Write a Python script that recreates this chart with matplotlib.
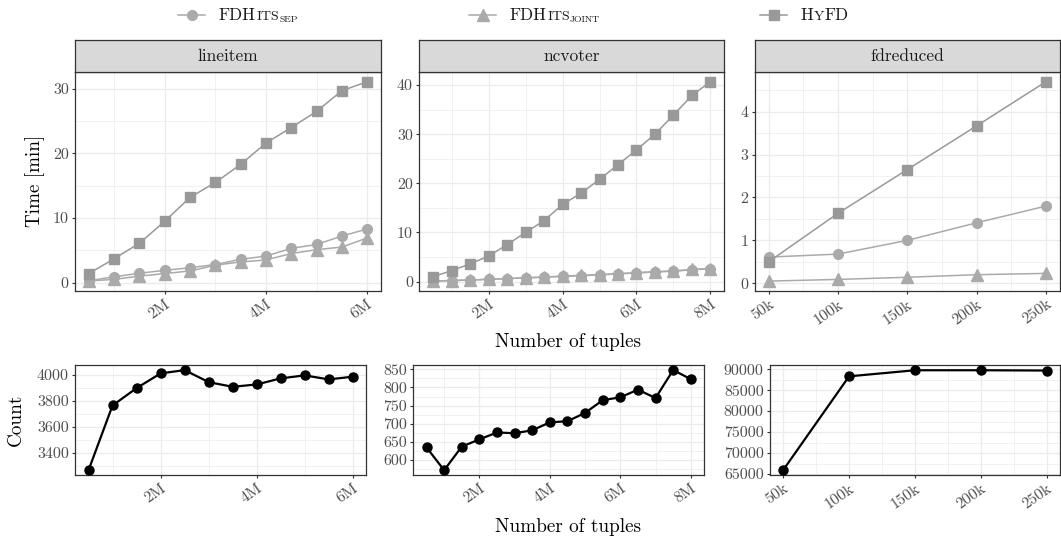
import matplotlib
matplotlib.use("Agg")
import matplotlib.pyplot as plt
from matplotlib.lines import Line2D

plt.rcParams['font.family'] = 'cmr10'
plt.rcParams['axes.formatter.use_mathtext'] = True
plt.rcParams['axes.unicode_minus'] = False

W, H = 1061, 541

# ---- data: runtime in minutes ----
li_x = [0.5, 1.0, 1.5, 2.0, 2.5, 3.0, 3.5, 4.0, 4.5, 5.0, 5.5, 6.0]
li_hyfd = [1.4, 3.7, 6.1, 9.5, 13.2, 15.5, 18.3, 21.6, 24.0, 26.5, 29.7, 31.1]
li_sep = [0.3, 0.9, 1.45, 1.9, 2.3, 2.8, 3.6, 4.1, 5.3, 5.9, 7.2, 8.3]
li_joint = [0.25, 0.5, 1.0, 1.4, 1.8, 2.7, 3.2, 3.5, 4.5, 5.1, 5.5, 6.9]

nc_x = [0.5, 1.0, 1.5, 2.0, 2.5, 3.0, 3.5, 4.0, 4.5, 5.0, 5.5, 6.0, 6.5, 7.0, 7.5, 8.0]
nc_hyfd = [1.0, 2.2, 3.6, 5.2, 7.5, 10.0, 12.4, 15.7, 18.0, 20.8, 23.8, 26.8, 30.0, 33.9, 37.9, 40.7]
nc_sep = [0.1, 0.2, 0.3, 0.45, 0.6, 0.75, 0.9, 1.05, 1.2, 1.35, 1.55, 1.75, 1.95, 2.1, 2.4, 2.6]
nc_joint = [0.1, 0.2, 0.3, 0.45, 0.6, 0.75, 0.9, 1.1, 1.25, 1.4, 1.6, 1.8, 2.0, 2.15, 2.45, 2.65]

fd_x = [50, 100, 150, 200, 250]
fd_hyfd = [0.5, 1.63, 2.65, 3.67, 4.70]
fd_sep = [0.61, 0.68, 1.0, 1.41, 1.80]
fd_joint = [0.05, 0.09, 0.14, 0.2, 0.23]

# ---- data: FD counts ----
li_count = [3264, 3763, 3897, 4010, 4036, 3943, 3907, 3925, 3972, 3995, 3964, 3985]
nc_count = [635, 572, 637, 657, 676, 674, 682, 704, 707, 730, 765, 773, 794, 771, 848, 823]
fd_count = [65950, 88300, 89750, 89750, 89680]

GRID = '#EBEBEB'
DARK = '#333333'
TICK = '#4D4D4D'
C_SEP = '#AAAAAA'
C_HYFD = '#999999'

fig = plt.figure(figsize=(W / 100, H / 100), dpi=100)


def px_axes(l, t, r, b):
    return fig.add_axes([l / W, 1 - b / H, (r - l) / W, (b - t) / H])


def style(ax, xmaj, xlab, xmin, ymaj, ylab, ymin, xlim, ylim):
    ax.set_xlim(*xlim)
    ax.set_ylim(*ylim)
    ax.set_xticks(xmaj)
    ax.set_xticklabels(xlab)
    ax.set_xticks(xmin, minor=True)
    ax.set_yticks(ymaj)
    ax.set_yticklabels(ylab)
    ax.set_yticks(ymin, minor=True)
    ax.grid(which='major', color=GRID, lw=0.9)
    ax.grid(which='minor', color=GRID, lw=0.5)
    ax.set_axisbelow(True)
    for s in ax.spines.values():
        s.set_color(DARK)
        s.set_linewidth(0.9)
    ax.tick_params(which='major', length=2.5, width=0.8, color=DARK,
                   labelsize=11.5, labelcolor=TICK, pad=2)
    ax.tick_params(which='minor', length=0)
    for t in ax.get_xticklabels():
        t.set_rotation(35)
        t.set_ha('right')
        t.set_va('top')
        t.set_rotation_mode('anchor')


def strip(l, r, label):
    s = px_axes(l, 40, r, 71.7)
    s.set_facecolor('#D9D9D9')
    s.set_xticks([])
    s.set_yticks([])
    for sp in s.spines.values():
        sp.set_color(DARK)
        sp.set_linewidth(0.9)
    s.text(0.5, 0.5, label, ha='center', va='center', fontsize=12.5,
           color='#1A1A1A', transform=s.transAxes)


def runtime(ax, x, sep, joint, hyfd):
    ax.plot(x, sep, color=C_SEP, lw=1.1, marker='o', ms=7, zorder=3)
    ax.plot(x, joint, color=C_SEP, lw=1.1, marker='^', ms=8, zorder=4)
    ax.plot(x, hyfd, color=C_HYFD, lw=1.1, marker='s', ms=7, zorder=5)


def counts(ax, x, y):
    ax.plot(x, y, color='black', lw=1.6, marker='o', ms=6.5, zorder=3)


# top row
a1 = px_axes(75, 71.7, 381, 291)
runtime(a1, li_x, li_sep, li_joint, li_hyfd)
style(a1, [2, 4, 6], ['2M', '4M', '6M'], [1, 3, 5],
      [0, 10, 20, 30], ['0', '10', '20', '30'], [5, 15, 25],
      (0.225, 6.275), (-1.3, 32.65))
strip(75, 381, 'lineitem')

a2 = px_axes(419.3, 71.7, 724.3, 291)
runtime(a2, nc_x, nc_sep, nc_joint, nc_hyfd)
style(a2, [2, 4, 6, 8], ['2M', '4M', '6M', '8M'], [1, 3, 5, 7],
      [0, 10, 20, 30, 40], ['0', '10', '20', '30', '40'], [5, 15, 25, 35],
      (0.125, 8.375), (-1.93, 42.73))
strip(419.3, 724.3, 'ncvoter')

a3 = px_axes(754.7, 71.7, 1060, 291)
runtime(a3, fd_x, fd_sep, fd_joint, fd_hyfd)
style(a3, fd_x, ['50k', '100k', '150k', '200k', '250k'], [75, 125, 175, 225],
      [0, 1, 2, 3, 4], ['0', '1', '2', '3', '4'], [0.5, 1.5, 2.5, 3.5, 4.5],
      (40, 260), (-0.18, 4.93))
strip(754.7, 1060, 'fdreduced')

# bottom row
b1 = px_axes(75.3, 365, 366, 475.3)
counts(b1, li_x, li_count)
style(b1, [2, 4, 6], ['2M', '4M', '6M'], [1, 3, 5],
      [3400, 3600, 3800, 4000], ['3400', '3600', '3800', '4000'],
      [3300, 3500, 3700, 3900], (0.225, 6.275), (3225, 4075))

b2 = px_axes(413.3, 365, 704, 475.3)
counts(b2, nc_x, nc_count)
style(b2, [2, 4, 6, 8], ['2M', '4M', '6M', '8M'], [1, 3, 5, 7],
      [600, 650, 700, 750, 800, 850], ['600', '650', '700', '750', '800', '850'],
      [575, 625, 675, 725, 775, 825], (0.125, 8.375), (558, 862))

b3 = px_axes(770, 365, 1060, 475.3)
counts(b3, fd_x, fd_count)
style(b3, fd_x, ['50k', '100k', '150k', '200k', '250k'], [75, 125, 175, 225],
      [65000, 70000, 75000, 80000, 85000, 90000],
      ['65000', '70000', '75000', '80000', '85000', '90000'],
      [67500, 72500, 77500, 82500, 87500], (40, 260), (64700, 91000))

# axis titles
fig.text(35.5 / W, 1 - 181 / H, 'Time [min]', rotation=90, ha='center',
         va='center', fontsize=13.8)
fig.text(16 / W, 1 - 420 / H, 'Count', rotation=90, ha='center',
         va='center', fontsize=13.8)
fig.text(568 / W, 1 - 342 / H, 'Number of tuples', ha='center', va='center',
         fontsize=13.8)
fig.text(568 / W, 1 - 527 / H, 'Number of tuples', ha='center', va='center',
         fontsize=13.8)

# legend (drawn by hand for the small caps labels)
renderer = fig.canvas.get_renderer()


def legend_item(x0, x1, marker, ms, color, parts):
    yc = 1 - 15 / H
    fig.add_artist(Line2D([x0 / W, x1 / W], [yc, yc], color=color, lw=1.1,
                          transform=fig.transFigure))
    fig.add_artist(Line2D([(x0 + x1) / 2 / W], [yc], marker=marker, ms=ms,
                          color=color, transform=fig.transFigure))
    x = x1 + 14
    for txt, size, dy in parts:
        t = fig.text(x / W, 1 - (20 + dy) / H, txt, fontsize=size,
                     color='#1A1A1A', va='baseline', ha='left')
        x = t.get_window_extent(renderer).x1 + 0.3


legend_item(178, 205, 'o', 7, C_SEP,
            [('FDH', 12.3, 0), ('ITS', 10, 0), ('SEP', 7, 2.5)])
legend_item(469, 496, '^', 8, C_SEP,
            [('FDH', 12.3, 0), ('ITS', 10, 0), ('JOINT', 7, 2.5)])
legend_item(760, 787, 's', 7, C_HYFD,
            [('H', 12.3, 0), ('Y', 10, 0), ('FD', 12.3, 0)])

plt.savefig('out.png', dpi=100)
